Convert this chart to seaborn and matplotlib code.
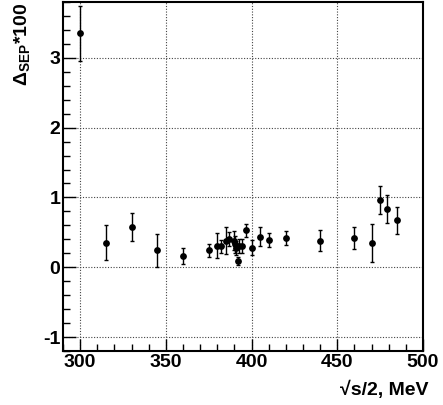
import numpy as np
import pandas as pd
import matplotlib
matplotlib.use("Agg")
import matplotlib.pyplot as plt
from matplotlib.ticker import MultipleLocator
import seaborn as sns

energy = [300, 315, 330, 345, 360, 375, 380, 382, 385, 387, 389.5, 390.5, 391, 391.8,
          392.8, 394.5, 397, 400, 405, 410, 420, 440, 460, 470, 475, 479, 485]
delta = [3.35, 0.35, 0.58, 0.24, 0.16, 0.24, 0.31, 0.30, 0.38, 0.40, 0.38, 0.33, 0.28, 0.09,
         0.31, 0.30, 0.53, 0.28, 0.44, 0.39, 0.42, 0.38, 0.42, 0.35, 0.96, 0.83, 0.67]
err = [0.39, 0.25, 0.20, 0.23, 0.115, 0.10, 0.18, 0.09, 0.19, 0.10, 0.14, 0.12, 0.10, 0.06,
       0.10, 0.10, 0.09, 0.11, 0.14, 0.10, 0.10, 0.15, 0.16, 0.27, 0.20, 0.20, 0.20]

df = pd.DataFrame({"E": energy, "D": delta, "err": err})

sns.set_theme(style="ticks")
plt.rcParams['font.family'] = ['Liberation Sans', 'DejaVu Sans']
plt.rcParams['axes.unicode_minus'] = False
plt.rcParams['mathtext.fontset'] = 'custom'
plt.rcParams['mathtext.rm'] = 'Liberation Sans:bold'
plt.rcParams['mathtext.it'] = 'Liberation Sans:bold'
plt.rcParams['mathtext.bf'] = 'Liberation Sans:bold'
plt.rcParams['text.color'] = 'black'
plt.rcParams['xtick.color'] = 'black'
plt.rcParams['ytick.color'] = 'black'
plt.rcParams['axes.labelcolor'] = 'black'

fig = plt.figure(figsize=(4.43, 4.05), dpi=100)
ax = fig.add_axes([63/443, 1 - 351/405, 360/443, 349/405])

ax.errorbar(df["E"], df["D"], yerr=df["err"], fmt="none", ecolor="black",
            elinewidth=1.0, capsize=1.5, capthick=1.0, zorder=3)
sns.scatterplot(data=df, x="E", y="D", ax=ax, color="black", s=24, edgecolor="black",
                linewidth=0, zorder=4, legend=False)

ax.set_xlim(290, 500)
ax.set_ylim(-1.2, 3.8)
ax.xaxis.set_major_locator(MultipleLocator(50))
ax.xaxis.set_minor_locator(MultipleLocator(10))
ax.yaxis.set_major_locator(MultipleLocator(1))
ax.yaxis.set_minor_locator(MultipleLocator(0.2))

ax.grid(True, which="major", linestyle=(0, (1, 1.5)), color="#444444", linewidth=0.8)
ax.tick_params(which="major", direction="in", length=9, width=1.0, top=False, right=False,
               labelsize=14, pad=2, colors="black")
ax.tick_params(which="minor", direction="in", length=5, width=1.0, top=False, right=False,
               colors="black")
for lbl in ax.get_xticklabels() + ax.get_yticklabels():
    lbl.set_fontweight("bold")
for s in ax.spines.values():
    s.set_linewidth(1.5)
    s.set_color("black")

ax.set_xlabel("\u221as/2, MeV", fontsize=14, fontweight="bold", loc="right")
ax.xaxis.set_label_coords(1.015, -0.085)
ax.set_ylabel(r"$\Delta_{\mathbf{SEP}}$*100", fontsize=14, fontweight="bold", loc="top")
ax.yaxis.set_label_coords(-0.085, 0.998)

fig.savefig("out.png", dpi=100)
